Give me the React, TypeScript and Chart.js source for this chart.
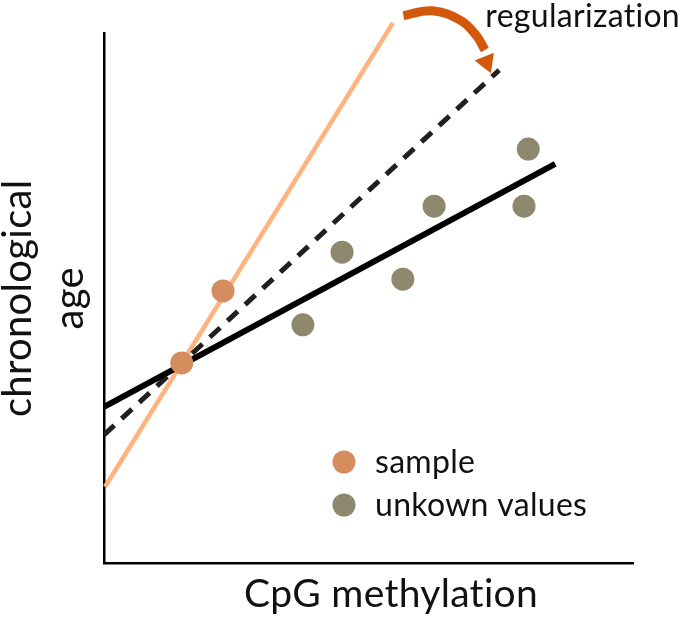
import { useEffect, useRef } from 'react'
import { Chart, registerables } from 'chart.js'

Chart.register(...registerables)

// Values are on a 0-100 scale for both axes (no ticks in the figure)
const sampleX = [14.7, 22.5]
const sampleY = [37.8, 51.4]
const unknownX = [37.6, 45.0, 56.5, 62.4, 80.2, 79.4]
const unknownY = [45.0, 58.7, 53.6, 67.4, 78.2, 67.4]

// straight lines: start and end points
const fitX = [0, 85.3]
const fitY = [29.5, 75.4]
const regularizedX = [0, 74.7]
const regularizedY = [24.2, 93.1]
const sampleFitX = [0.2, 54.6]
const sampleFitY = [14.4, 102.0]

// curved arrow (sits above the plot area)
const arrowX = [56.6, 62.0, 67.4, 70.4, 72.0]
const arrowY = [103.4, 104.3, 102.5, 99.6, 96.9]
const arrowHeadX = [72.3]
const arrowHeadY = [94.6]

const seriesLabels = ['sample', 'unkown values']
const xTitle = 'CpG methylation'
const yTitle = ['chronological', 'age']
const noteText = 'regularization'

const toPoints = (xs: number[], ys: number[]) => xs.map((x, i) => ({ x, y: ys[i] }))

const FONT = 'Lato, "Open Sans", sans-serif'

// a touch of letter spacing keeps Lato from joining "ti"
const textSpacing = {
  id: 'textSpacing',
  beforeDraw(chart: any) {
    chart.ctx.letterSpacing = '0.3px'
  },
}

// legend inside the plot area and the x axis title (placed off-centre like the original)
const annotations = {
  id: 'annotations',
  afterDraw(chart: any, _args: any, opts: any) {
    const { ctx } = chart
    ctx.save()
    ctx.letterSpacing = '0.3px'
    ctx.textBaseline = 'alphabetic'

    const lg = opts.legend
    ctx.font = `${lg.size}px ${FONT}`
    lg.items.forEach((index: number, i: number) => {
      const ds = chart.data.datasets[index]
      const y = lg.y + i * lg.spacing
      ctx.beginPath()
      ctx.arc(lg.x, y, lg.radius, 0, Math.PI * 2)
      ctx.fillStyle = ds.backgroundColor
      ctx.fill()
      ctx.fillStyle = '#111'
      ctx.textAlign = 'left'
      ctx.fillText(ds.label, lg.x + lg.gap, y + lg.baseline)
    })

    const xt = opts.xTitle
    ctx.font = `${xt.size}px ${FONT}`
    ctx.fillStyle = '#111'
    ctx.textAlign = 'center'
    ctx.fillText(xt.text, xt.x, xt.y)
    ctx.restore()
  },
}

export default function App() {
  const chartRef = useRef<HTMLCanvasElement>(null)
  const chartInstance = useRef<Chart | null>(null)

  useEffect(() => {
    document.body.style.margin = '0'
    if (!chartRef.current) return
    if (chartInstance.current) chartInstance.current.destroy()

    const ctx = chartRef.current.getContext('2d')
    chartInstance.current = new Chart(ctx as any, {
      type: 'scatter',
      data: {
        datasets: [
          {
            label: seriesLabels[0],
            data: toPoints(sampleX, sampleY),
            backgroundColor: '#D58C5F',
            borderWidth: 0,
            pointRadius: 11.5,
          },
          {
            label: seriesLabels[1],
            data: toPoints(unknownX, unknownY),
            backgroundColor: '#8E896E',
            borderWidth: 0,
            pointRadius: 11.5,
          },
          {
            type: 'line',
            label: 'fit',
            data: toPoints(fitX, fitY),
            borderColor: '#000',
            borderWidth: 6,
            pointRadius: 0,
            showLine: true,
          },
          {
            type: 'line',
            label: 'regularized',
            data: toPoints(regularizedX, regularizedY),
            borderColor: '#231F20',
            borderWidth: 5,
            borderDash: [14, 10],
            pointRadius: 0,
            showLine: true,
          },
          {
            type: 'line',
            label: 'sample fit',
            data: toPoints(sampleFitX, sampleFitY),
            borderColor: '#FFB380',
            borderWidth: 4.5,
            pointRadius: 0,
            showLine: true,
            clip: false,
          },
          {
            type: 'line',
            label: 'arrow',
            data: toPoints(arrowX, arrowY),
            borderColor: '#D4580C',
            borderWidth: 9,
            tension: 0.4,
            pointRadius: 0,
            showLine: true,
            clip: false,
          },
          {
            label: 'arrow head',
            data: toPoints(arrowHeadX, arrowHeadY),
            pointStyle: 'triangle',
            pointRadius: 12,
            rotation: 158,
            backgroundColor: '#D4580C',
            borderWidth: 0,
            clip: false,
          },
        ] as any,
      },
      options: {
        responsive: true,
        maintainAspectRatio: false,
        animation: false,
        layout: { padding: 0 },
        scales: {
          x: {
            type: 'linear',
            min: 0,
            max: 100,
            grid: { display: false },
            ticks: { display: false },
            border: { display: true, color: '#000', width: 2.5 },
            title: { display: false },
            afterFit: (scale: any) => { scale.height = 57 },
          },
          y: {
            type: 'linear',
            min: 0,
            max: 100,
            grid: { display: false },
            ticks: { display: false },
            border: { display: true, color: '#000', width: 2.5 },
            title: {
              display: true,
              text: yTitle,
              color: '#111',
              font: { family: FONT, size: 40, lineHeight: 1.3 },
              padding: { top: -8, bottom: 0 },
            },
            afterFit: (scale: any) => { scale.width = 104 },
          },
          yRight: {
            type: 'linear',
            position: 'right',
            display: true,
            grid: { display: false },
            ticks: { display: false },
            border: { display: false },
            afterFit: (scale: any) => { scale.width = 47 },
          },
        },
        plugins: {
          legend: { display: false },
          tooltip: { enabled: false },
          title: {
            display: true,
            text: noteText,
            align: 'end',
            color: '#111',
            font: { family: FONT, size: 32, weight: 'normal', lineHeight: 1.05 },
            padding: 0,
          },
          annotations: {
            legend: {
              items: [0, 1],
              x: 344,
              y: 462,
              spacing: 43,
              radius: 11.5,
              gap: 31,
              baseline: 11,
              size: 32,
            },
            xTitle: { text: xTitle, x: 391, y: 607, size: 39 },
          },
        } as any,
      },
      plugins: [textSpacing, annotations],
    })

    return () => {
      if (chartInstance.current) {
        chartInstance.current.destroy()
        chartInstance.current = null
      }
    }
  }, [])

  return (
    <div style={{ position: 'relative', width: 680, height: 620 }}>
      <canvas ref={chartRef} />
    </div>
  )
}
